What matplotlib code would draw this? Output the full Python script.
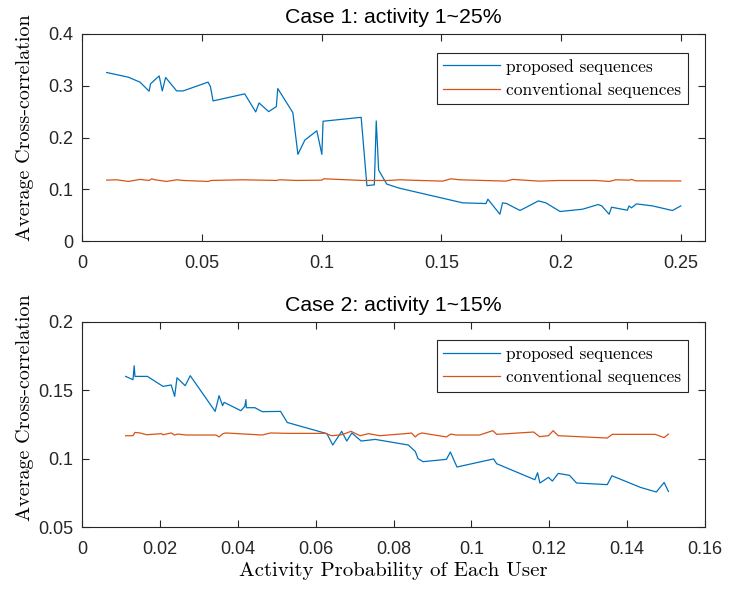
import matplotlib
matplotlib.use("Agg")
import matplotlib.pyplot as plt
from matplotlib.ticker import FuncFormatter

# ---------------- data: Case 1 ----------------
c1_prop_x = [0.0103, 0.0193, 0.0242, 0.0280, 0.0286, 0.0322, 0.0335, 0.0349, 0.0395, 0.0422,
             0.0526, 0.0536, 0.0547, 0.0679, 0.0725, 0.0739, 0.0779, 0.0811, 0.0817, 0.0880,
             0.0901, 0.0930, 0.0980, 0.1001, 0.1006, 0.1165, 0.1189, 0.1220, 0.1228, 0.1238,
             0.1272, 0.1325, 0.1589, 0.1686, 0.1694, 0.1744, 0.1755, 0.1772, 0.1828, 0.1905,
             0.1936, 0.1995, 0.2089, 0.2154, 0.2169, 0.2200, 0.2210, 0.2276, 0.2283, 0.2293,
             0.2314, 0.2381, 0.2464, 0.2499]
c1_prop_y = [0.3256, 0.3166, 0.3070, 0.2895, 0.3037, 0.3190, 0.2900, 0.3160, 0.2900, 0.2900,
             0.3070, 0.2985, 0.2707, 0.2843, 0.2494, 0.2668, 0.2500, 0.2597, 0.2946, 0.2480,
             0.1674, 0.1950, 0.2130, 0.1674, 0.2314, 0.2390, 0.1070, 0.1085, 0.2320, 0.1370,
             0.1099, 0.1020, 0.0737, 0.0724, 0.0808, 0.0517, 0.0737, 0.0724, 0.0589, 0.0775,
             0.0737, 0.0570, 0.0614, 0.0705, 0.0678, 0.0517, 0.0653, 0.0595, 0.0678, 0.0640,
             0.0717, 0.0678, 0.0589, 0.0678]

c1_conv_x = [0.0103, 0.0145, 0.0193, 0.0242, 0.0280, 0.0291, 0.0305, 0.0353, 0.0395, 0.0422,
             0.0526, 0.0540, 0.0672, 0.0811, 0.0825, 0.0894, 0.1001, 0.1009, 0.1172, 0.1228,
             0.1283, 0.1325, 0.1367, 0.1505, 0.1540, 0.1575, 0.1769, 0.1797, 0.1908,
             0.1991, 0.2144, 0.2200, 0.2228, 0.2283, 0.2293, 0.2311, 0.2499]
c1_conv_y = [0.1176, 0.1183, 0.1151, 0.1190, 0.1170, 0.1202, 0.1183, 0.1151, 0.1183, 0.1170,
             0.1151, 0.1170, 0.1183, 0.1170, 0.1183, 0.1170, 0.1176, 0.1202, 0.1170, 0.1170,
             0.1170, 0.1183, 0.1176, 0.1157, 0.1202, 0.1183, 0.1157, 0.1190, 0.1157,
             0.1170, 0.1170, 0.1151, 0.1183, 0.1176, 0.1190, 0.1163, 0.1160]

# ---------------- data: Case 2 ----------------
c2_prop_x = [0.0112, 0.0131, 0.0134, 0.0136, 0.0168, 0.0208, 0.0229, 0.0238, 0.0244, 0.0265,
             0.0278, 0.0342, 0.0352, 0.0361, 0.0365, 0.0408, 0.0418, 0.0421, 0.0422, 0.0444,
             0.0463, 0.0510, 0.0527, 0.0629, 0.0644, 0.0667, 0.0680, 0.0693, 0.0717, 0.0753,
             0.0838, 0.0856, 0.0863, 0.0876, 0.0936, 0.0946, 0.0963, 0.1057, 0.1065, 0.1163,
             0.1170, 0.1176, 0.1198, 0.1208, 0.1223, 0.1252, 0.1270, 0.1349, 0.1361, 0.1434,
             0.1475, 0.1495, 0.1506]
c2_prop_y = [0.1602, 0.1578, 0.1680, 0.1602, 0.1602, 0.1529, 0.1539, 0.1456, 0.1592, 0.1534,
             0.1607, 0.1346, 0.1461, 0.1388, 0.1412, 0.1351, 0.1383, 0.1432, 0.1373, 0.1373,
             0.1344, 0.1346, 0.1265, 0.1183, 0.1100, 0.1200, 0.1129, 0.1188, 0.1129, 0.1141,
             0.1100, 0.1053, 0.1000, 0.0978, 0.0995, 0.1049, 0.0939, 0.0998, 0.0963, 0.0846,
             0.0897, 0.0822, 0.0863, 0.0836, 0.0892, 0.0878, 0.0822, 0.0810, 0.0875, 0.0790,
             0.0756, 0.0826, 0.0760]

c2_conv_x = [0.0112, 0.0131, 0.0136, 0.0149, 0.0166, 0.0204, 0.0208, 0.0229, 0.0238, 0.0246,
             0.0268, 0.0344, 0.0352, 0.0362, 0.0369, 0.0420, 0.0463, 0.0484, 0.0531, 0.0625,
             0.0641, 0.0667, 0.0691, 0.0714, 0.0736, 0.0765, 0.0838, 0.0846, 0.0856, 0.0863,
             0.0873, 0.0936, 0.0947, 0.0961, 0.1021, 0.1055, 0.1065, 0.1160, 0.1175, 0.1198,
             0.1210, 0.1223, 0.1349, 0.1362, 0.1472, 0.1495, 0.1506]
c2_conv_y = [0.1168, 0.1168, 0.1192, 0.1188, 0.1175, 0.1183, 0.1175, 0.1188, 0.1173, 0.1180,
             0.1173, 0.1173, 0.1159, 0.1183, 0.1188, 0.1180, 0.1173, 0.1188, 0.1185, 0.1185,
             0.1168, 0.1175, 0.1200, 0.1168, 0.1183, 0.1168, 0.1185, 0.1188, 0.1159, 0.1178,
             0.1188, 0.1159, 0.1180, 0.1173, 0.1173, 0.1205, 0.1178, 0.1195, 0.1161, 0.1168,
             0.1205, 0.1168, 0.1151, 0.1178, 0.1178, 0.1154, 0.1180]

series_labels = ["proposed sequences", "conventional sequences"]
titles = ["Case 1: activity 1~25%", "Case 2: activity 1~15%"]
xlabel = "Activity Probability of Each User"
ylabel = "Average Cross-correlation"
c1_xticks = [0, 0.05, 0.1, 0.15, 0.2, 0.25]
c1_yticks = [0, 0.1, 0.2, 0.3, 0.4]
c2_xticks = [0, 0.02, 0.04, 0.06, 0.08, 0.1, 0.12, 0.14, 0.16]
c2_yticks = [0.05, 0.1, 0.15, 0.2]

BLUE = "#0072BD"
ORANGE = "#D95319"
SANS = ["Liberation Sans", "DejaVu Sans"]
SERIF = ["cmr10", "DejaVu Serif"]

W, H = 729, 589
fig = plt.figure(figsize=(W / 100, H / 100), dpi=100)

def px_axes(left, top, right, bottom):
    return fig.add_axes([left / W, 1 - bottom / H, (right - left) / W, (bottom - top) / H])

fmt = FuncFormatter(lambda v, p: "%g" % v)

def style(ax, xticks, yticks, xlim, ylim, title, ylab_y):
    ax.set_xlim(*xlim)
    ax.set_ylim(*ylim)
    ax.set_xticks(xticks)
    ax.set_yticks(yticks)
    ax.xaxis.set_major_formatter(fmt)
    ax.yaxis.set_major_formatter(fmt)
    ax.tick_params(direction="in", length=5, width=0.8, color="#262626",
                   top=True, right=True, labelsize=13, labelcolor="#262626")
    ax.tick_params(axis="x", pad=10)
    ax.tick_params(axis="y", pad=6)
    for lab in ax.get_xticklabels() + ax.get_yticklabels():
        lab.set_family(SANS)
    for s in ax.spines.values():
        s.set_color("#262626")
        s.set_linewidth(0.8)
    ax.set_title(title, family=SANS, fontsize=15.3, color="black", pad=8)
    ax.set_ylabel(ylabel, family=SERIF, fontsize=14.5)
    ax.yaxis.set_label_coords(-0.077, ylab_y)

ax1 = px_axes(82, 34, 705, 241)
ax1.plot(c1_prop_x, c1_prop_y, color=BLUE, lw=0.9, label=series_labels[0])
ax1.plot(c1_conv_x, c1_conv_y, color=ORANGE, lw=0.9, label=series_labels[1])
style(ax1, c1_xticks, c1_yticks, (0, 0.26), (0, 0.4), titles[0], 0.546)

ax2 = px_axes(82, 322, 705, 527)
ax2.plot(c2_prop_x, c2_prop_y, color=BLUE, lw=0.9, label=series_labels[0])
ax2.plot(c2_conv_x, c2_conv_y, color=ORANGE, lw=0.9, label=series_labels[1])
style(ax2, c2_xticks, c2_yticks, (0, 0.16), (0.05, 0.2), titles[1], 0.58)
ax2.set_xlabel(xlabel, family=SERIF, fontsize=15, labelpad=3)

for ax in (ax1, ax2):
    leg = ax.legend(loc="upper right", bbox_to_anchor=(0.972, 0.91),
                    prop={"family": SERIF, "size": 12.5}, frameon=True, fancybox=False,
                    handlelength=3.3, handletextpad=0.35, borderpad=0.35, labelspacing=0.45,
                    borderaxespad=0)
    fr = leg.get_frame()
    fr.set_edgecolor("#262626")
    fr.set_linewidth(0.8)
    fr.set_alpha(1)

fig.savefig("out.png", dpi=100)
